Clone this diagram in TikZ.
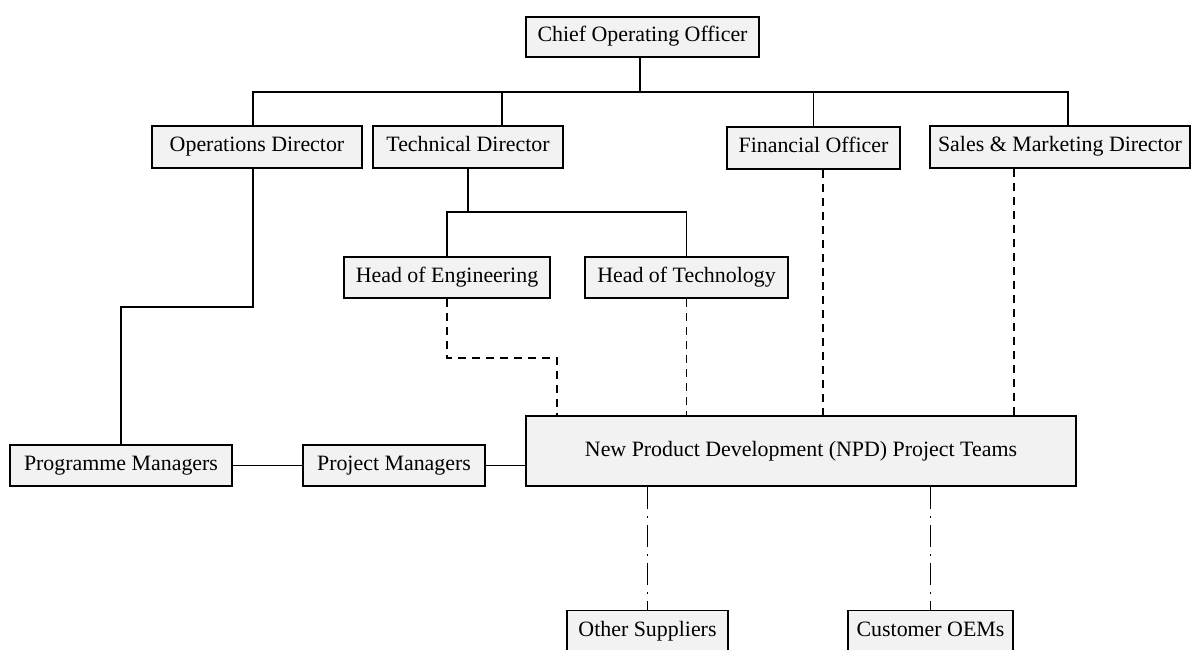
\documentclass[tikz,border=0pt]{standalone}
\usepackage{fontspec}
\setmainfont{Liberation Serif}
\begin{document}
\begin{tikzpicture}[x=1pt,y=-1pt,
  box/.style={draw=black, line width=1.6pt, fill=boxfill, inner sep=0pt,
    text height=14.5pt, text depth=4.5pt,
    font=\fontsize{21.9}{26}\selectfont},
  link/.style={line width=1.7pt},
  dashlink/.style={line width=1.7pt, dash pattern=on 8pt off 6pt},
  dotlink/.style={line width=1.5pt, dash pattern=on 22pt off 7pt on 2pt off 7pt}]
\definecolor{boxfill}{HTML}{F2F2F2}
\useasboundingbox (0,0) rectangle (1192,650);
% nodes: centre at box centre, sizes from reference
\node[box, minimum width=233pt, minimum height=40pt] (coo) at (642.5,37) {Chief Operating Officer};
\node[box, minimum width=210pt, minimum height=42pt] (ops) at (257,147) {Operations Director};
\node[box, minimum width=190pt, minimum height=42pt] (tech) at (468,147) {Technical Director};
\node[box, minimum width=173pt, minimum height=42pt] (fin) at (813.5,148) {Financial Officer};
\node[box, minimum width=260pt, minimum height=42pt] (sales) at (1060,147) {Sales \& Marketing Director};
\node[box, minimum width=206pt, minimum height=41pt] (heng) at (447,277.5) {Head of Engineering};
\node[box, minimum width=203pt, minimum height=41pt] (htech) at (686.5,277.5) {Head of Technology};
\node[box, minimum width=550pt, minimum height=70pt] (npd) at (801,451) {New Product Development (NPD) Project Teams};
\node[box, minimum width=222pt, minimum height=41pt] (prog) at (121,465.5) {Programme Managers};
\node[box, minimum width=182pt, minimum height=41pt] (proj) at (394,465.5) {Project Managers};
\node[box, minimum width=161pt, minimum height=41pt] (sup) at (647.5,631) {Other Suppliers};
\node[box, minimum width=165pt, minimum height=41pt] (oem) at (930.5,631) {Customer OEMs};
% bus levels
\coordinate (busA) at (0,92);
\coordinate (busB) at (0,212);
\coordinate (busC) at (0,307);
\coordinate (busD) at (0,358);
% top bus
\draw[link] ([xshift=-2.5pt]coo.south) -- ([xshift=-2.5pt]coo.south |- busA);
\draw[link] ([xshift=-4pt]ops.north) -- ([xshift=-4pt]ops.north |- busA)
  -- ([xshift=8pt]sales.north |- busA) -- ([xshift=8pt]sales.north);
\draw[link] ([xshift=34pt]tech.north) -- ([xshift=34pt]tech.north |- busA);
\draw[link] (fin.north) -- (fin.north |- busA);
% technical director branch
\draw[link] (tech.south) -- (tech.south |- busB);
\draw[link] (heng.north) -- (heng.north |- busB) -- (htech.north |- busB) -- (htech.north);
% operations director to programme managers
\draw[link] ([xshift=-4pt]ops.south) -- ([xshift=-4pt]ops.south |- busC)
  -- (prog.north |- busC) -- (prog.north);
% managers chain
\draw[link] (prog.east) -- (proj.west);
\draw[link] (proj.east) -- (proj.east -| npd.west);
% dashed links
\draw[dashlink] (heng.south) -- (heng.south |- busD) -- ([xshift=-244pt]npd.north |- busD) -- ([xshift=-244pt]npd.north);
\draw[dashlink] (htech.south) -- (htech.south |- npd.north);
\draw[dashlink] ([xshift=9.5pt]fin.south) -- ([xshift=9.5pt]fin.south |- npd.north);
\draw[dashlink] ([xshift=-46pt]sales.south) -- ([xshift=-46pt]sales.south |- npd.north);
% dash-dot links
\draw[dotlink] (sup.north |- npd.south) -- (sup.north);
\draw[dotlink] (oem.north |- npd.south) -- (oem.north);
\end{tikzpicture}
\end{document}
